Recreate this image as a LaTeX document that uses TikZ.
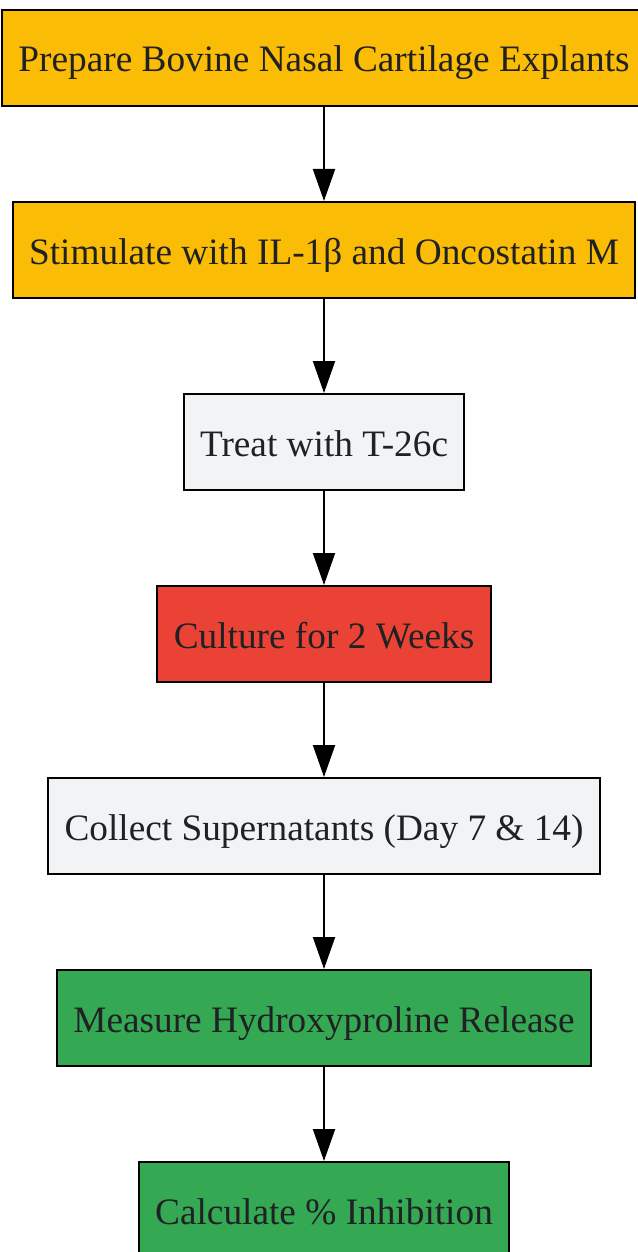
\documentclass[tikz,border=0pt]{standalone}
\usepackage{fontspec}
\setmainfont{Liberation Serif}
\usepackage{tikz}
\usetikzlibrary{arrows.meta, positioning}
\usepackage{xcolor}
\definecolor{stepyellow}{RGB}{251,188,5}
\definecolor{stepgray}{RGB}{241,243,244}
\definecolor{stepred}{RGB}{234,67,53}
\definecolor{stepgreen}{RGB}{52,168,83}
\definecolor{textdark}{RGB}{32,33,36}

\tikzset{
  stepbox/.style={draw=black, line width=2pt, minimum height=96pt,
    inner xsep=16.5pt, text height=34pt, text depth=6pt,
    font=\fontsize{37.3pt}{41pt}\selectfont, text=textdark},
  flow/.style={-{Triangle[length=32pt,width=22pt]}, line width=2pt, black}
}

\begin{document}
\begin{tikzpicture}[x=1pt, y=1pt, node distance=94pt]
    \useasboundingbox (0,0) rectangle (637,-1252);
    \node[stepbox, fill=stepyellow] (prepare) at (324,-58)
      {Prepare Bovine Nasal Cartilage Explants};
    \node[stepbox, fill=stepyellow, below=of prepare] (stimulate)
      {Stimulate with IL-1β and Oncostatin M};
    \node[stepbox, fill=stepgray, below=of stimulate] (treat)
      {Treat with T-26c};
    \node[stepbox, fill=stepred, below=of treat] (culture)
      {Culture for 2 Weeks};
    \node[stepbox, fill=stepgray, below=of culture] (collect)
      {Collect Supernatants (Day 7 \& 14)};
    \node[stepbox, fill=stepgreen, below=of collect] (measure)
      {Measure Hydroxyproline Release};
    \node[stepbox, fill=stepgreen, below=of measure] (calculate)
      {Calculate \% Inhibition};
    \draw[flow] (prepare) -- (stimulate);
    \draw[flow] (stimulate) -- (treat);
    \draw[flow] (treat) -- (culture);
    \draw[flow] (culture) -- (collect);
    \draw[flow] (collect) -- (measure);
    \draw[flow] (measure) -- (calculate);
  \end{tikzpicture}
\end{document}
